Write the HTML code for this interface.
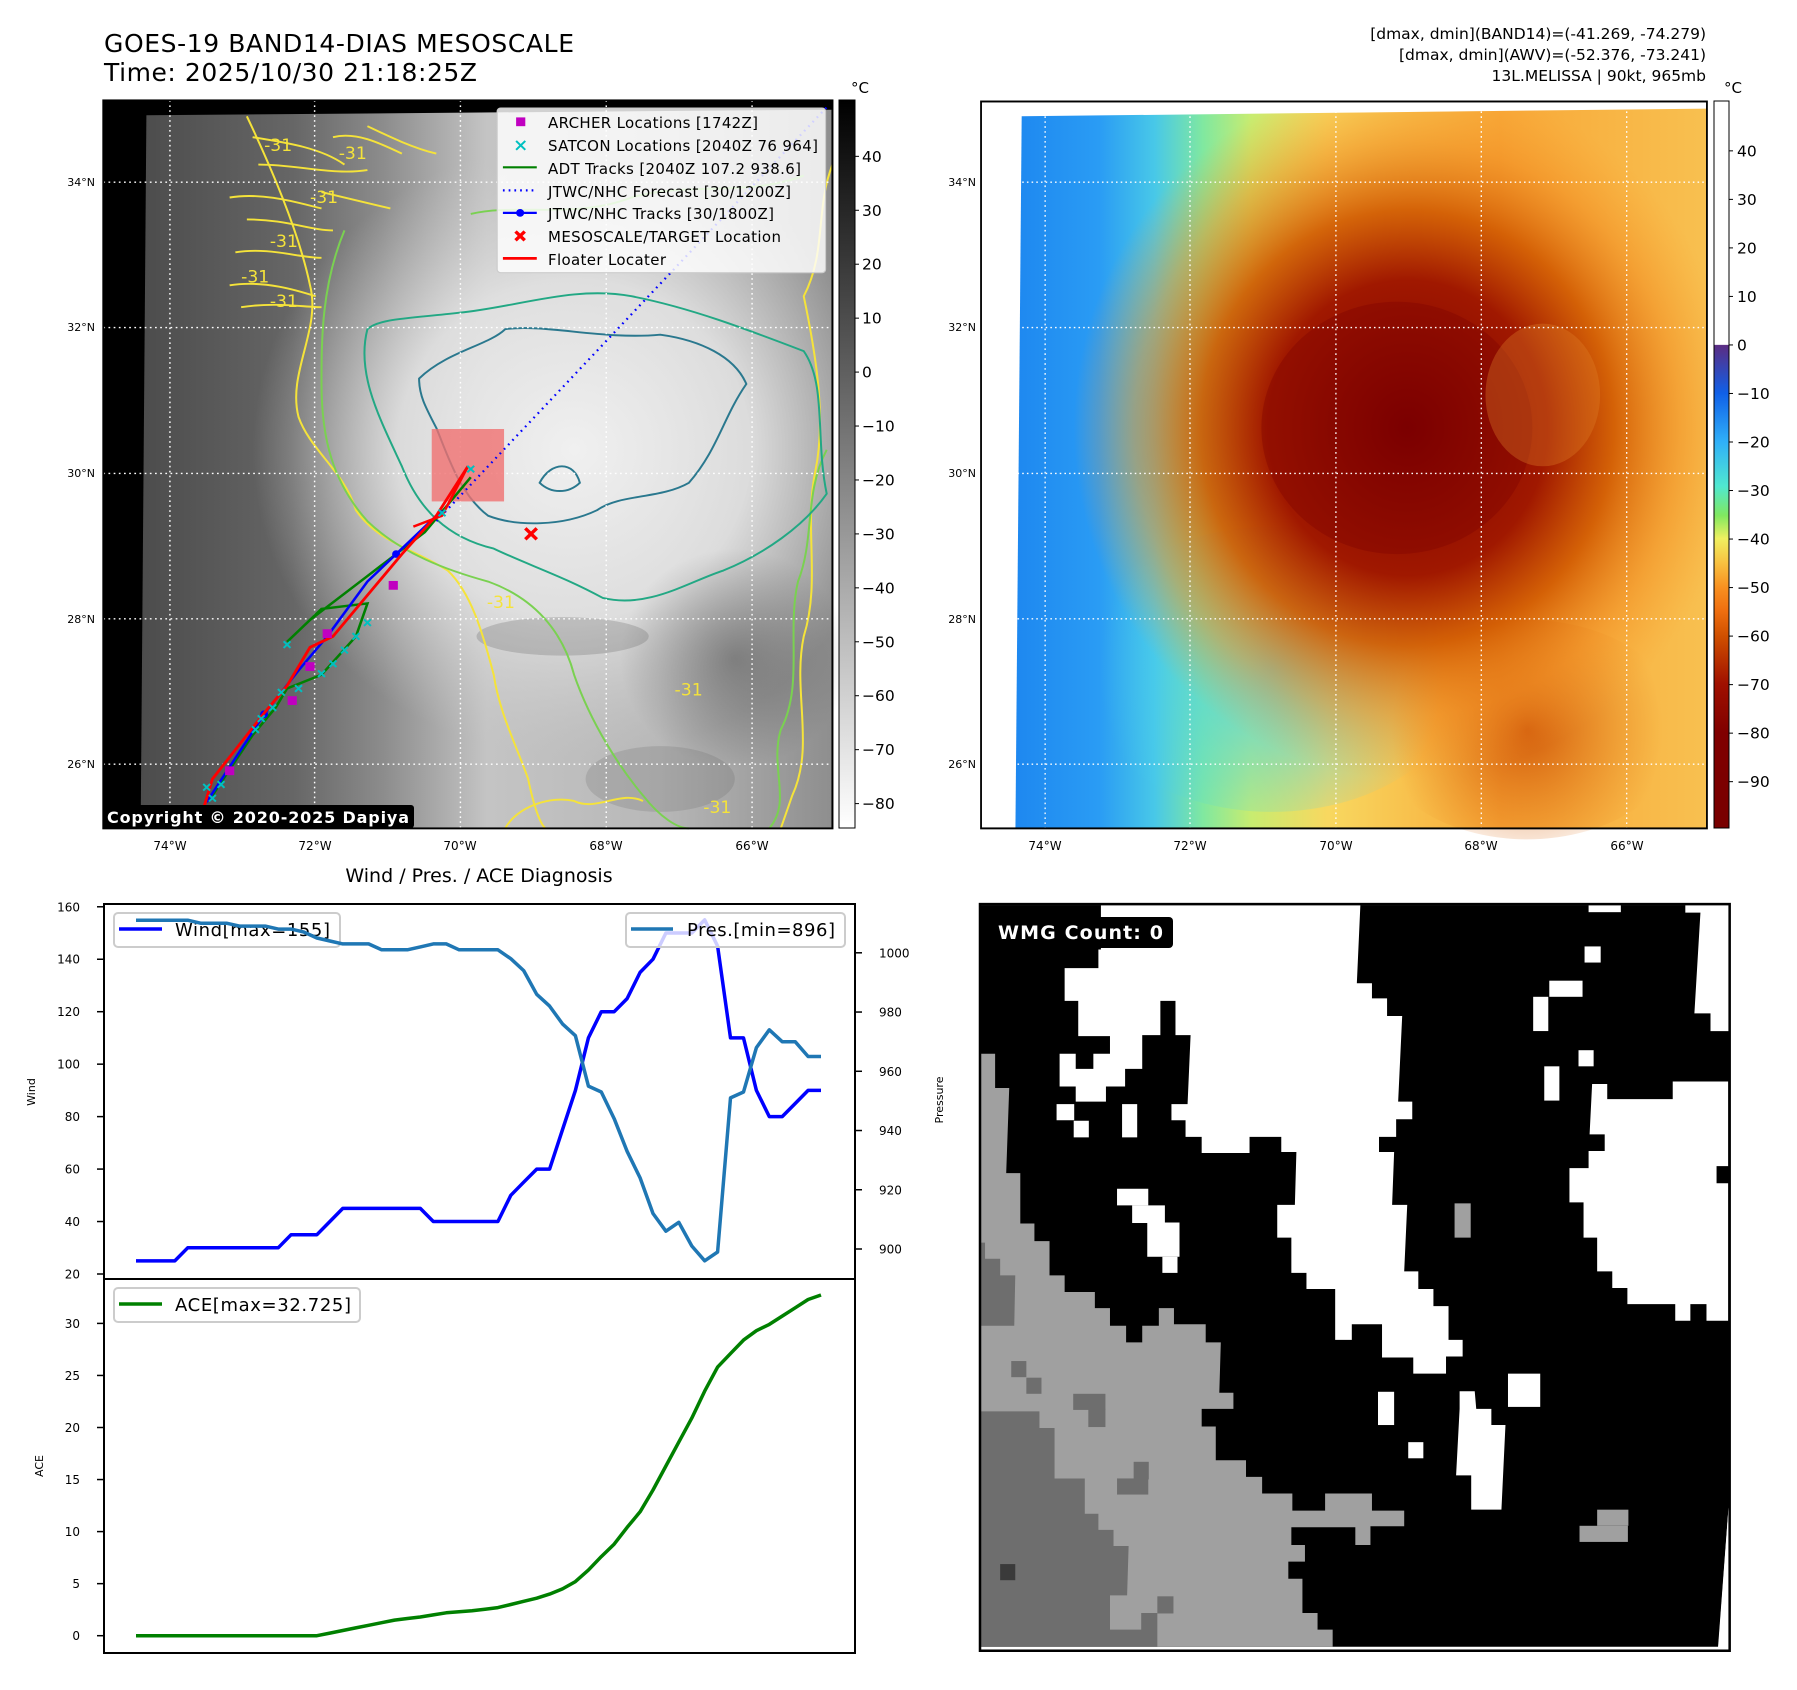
<!DOCTYPE html>
<html><head><meta charset="utf-8"><title>GOES-19 Mesoscale</title>
<style>
html,body{margin:0;padding:0;background:#fff;}
svg{display:block;font-family:"DejaVu Sans","Liberation Sans",sans-serif;}
</style></head>
<body>
<svg id="fig" width="1797" height="1690" viewBox="0 0 1797 1690" xmlns="http://www.w3.org/2000/svg">
<defs>
  <linearGradient id="g1base" gradientUnits="userSpaceOnUse" x1="245" y1="0" x2="1450" y2="0">
    <stop offset="0" stop-color="#4c4c4c"/><stop offset="0.22" stop-color="#666"/><stop offset="0.35" stop-color="#8c8c8c"/>
    <stop offset="0.5" stop-color="#c4c4c4"/><stop offset="0.75" stop-color="#b8b8b8"/><stop offset="1" stop-color="#8e8e8e"/>
  </linearGradient>
  <radialGradient id="g1c" gradientUnits="userSpaceOnUse" cx="1000" cy="820" r="560">
    <stop offset="0" stop-color="#f0f0f0" stop-opacity="1"/><stop offset="0.55" stop-color="#e2e2e2" stop-opacity="0.9"/><stop offset="1" stop-color="#c8c8c8" stop-opacity="0"/>
  </radialGradient>
  <radialGradient id="g1d" gradientUnits="userSpaceOnUse" cx="1280" cy="1200" r="200">
    <stop offset="0" stop-color="#4a4a4a" stop-opacity="0.5"/><stop offset="1" stop-color="#4a4a4a" stop-opacity="0"/>
  </radialGradient>
  <linearGradient id="g2base" gradientUnits="userSpaceOnUse" x1="70" y1="0" x2="1395" y2="0">
    <stop offset="0" stop-color="#1e88f0"/><stop offset="0.12" stop-color="#2a9cf4"/><stop offset="0.2" stop-color="#48c8e8"/>
    <stop offset="0.27" stop-color="#80e8a0"/><stop offset="0.34" stop-color="#c8ec70"/><stop offset="0.45" stop-color="#f8d860"/>
    <stop offset="0.7" stop-color="#f8a838"/><stop offset="1" stop-color="#f8c050"/>
  </linearGradient>
  <radialGradient id="g2c" gradientUnits="userSpaceOnUse" cx="820" cy="780" r="640">
    <stop offset="0" stop-color="#7c0000" stop-opacity="1"/><stop offset="0.42" stop-color="#a01800" stop-opacity="1"/>
    <stop offset="0.62" stop-color="#d05800" stop-opacity="0.9"/><stop offset="0.82" stop-color="#f08a20" stop-opacity="0.5"/>
    <stop offset="1" stop-color="#f8a030" stop-opacity="0"/>
  </radialGradient>
  <radialGradient id="g2b" gradientUnits="userSpaceOnUse" cx="560" cy="1220" r="330">
    <stop offset="0" stop-color="#48d0f0" stop-opacity="0.85"/><stop offset="1" stop-color="#48d0f0" stop-opacity="0"/>
  </radialGradient>
  <radialGradient id="g2o" gradientUnits="userSpaceOnUse" cx="1050" cy="1330" r="260">
    <stop offset="0" stop-color="#c84800" stop-opacity="0.8"/><stop offset="1" stop-color="#e07010" stop-opacity="0"/>
  </radialGradient>
  <linearGradient id="cb1" x1="0" y1="0" x2="0" y2="1">
    <stop offset="0" stop-color="#000"/><stop offset="1" stop-color="#fff"/>
  </linearGradient>
  <linearGradient id="cb2" x1="0" y1="0" x2="0" y2="1">
    <stop offset="0" stop-color="#fff"/><stop offset="0.335" stop-color="#fff"/><stop offset="0.336" stop-color="#5b2c83"/>
    <stop offset="0.402" stop-color="#1060e8"/><stop offset="0.469" stop-color="#30b0f8"/><stop offset="0.53" stop-color="#50e8d0"/>
    <stop offset="0.57" stop-color="#80e860"/><stop offset="0.602" stop-color="#f0f060"/><stop offset="0.636" stop-color="#f8c040"/>
    <stop offset="0.669" stop-color="#f89020"/><stop offset="0.70" stop-color="#f07010"/><stop offset="0.736" stop-color="#d05000"/>
    <stop offset="0.802" stop-color="#a01000"/><stop offset="0.869" stop-color="#800000"/><stop offset="1" stop-color="#780000"/>
  </linearGradient>
</defs>

<!-- Titles -->
<text x="104" y="52" font-size="25" textLength="470">GOES-19 BAND14-DIAS MESOSCALE</text>
<text x="104" y="81" font-size="25" textLength="373">Time: 2025/10/30 21:18:25Z</text>
<g font-size="15.5" text-anchor="end">
  <text x="1706" y="39">[dmax, dmin](BAND14)=(-41.269, -74.279)</text>
  <text x="1706" y="60">[dmax, dmin](AWV)=(-52.376, -73.241)</text>
  <text x="1706" y="81">13L.MELISSA | 90kt, 965mb</text>
</g>

<!-- MAP 1 -->
<g>
 <g transform="scale(0.5741,0.5486)">
  <rect x="180" y="183" width="1270" height="1327" fill="#000"/>
  <polygon points="255,210 1450,200 1450,1510 245,1510" fill="url(#g1base)"/>
  <polygon points="255,210 1450,200 1450,1510 245,1510" fill="url(#g1c)"/>
  <ellipse cx="1280" cy="1200" rx="200" ry="220" fill="url(#g1d)"/>
  <ellipse cx="980" cy="1160" rx="150" ry="35" fill="#5a5a5a" opacity="0.25"/>
  <ellipse cx="1150" cy="1420" rx="130" ry="60" fill="#606060" opacity="0.2"/>
  <!-- contours -->
  <g fill="none" stroke-width="3.5">
   <path stroke="#f5e33a" d="M430,212 C470,300 520,420 540,520 C560,600 500,680 520,760 C540,820 600,860 620,930 C660,990 720,1000 780,1040 C820,1080 840,1150 860,1230 C870,1300 900,1360 920,1420 C930,1470 940,1500 950,1510"/>
   <path stroke="#f5e33a" d="M1450,300 C1420,380 1440,460 1400,540 C1420,640 1440,760 1420,860 C1400,960 1430,1060 1400,1160 C1380,1260 1420,1360 1380,1450 L1360,1510"/>
   <path stroke="#f5e33a" d="M880,1510 C900,1470 960,1450 1000,1460 C1040,1480 1080,1440 1120,1460"/>
   <path stroke="#7ad151" d="M600,420 C560,520 560,620 560,700 C560,800 580,880 640,950 C700,1010 780,1040 850,1060 C930,1090 980,1150 1000,1230 C1030,1320 1080,1400 1120,1450 C1150,1490 1180,1510 1200,1510"/>
   <path stroke="#7ad151" d="M1440,820 C1400,900 1420,980 1390,1060 C1370,1150 1400,1250 1360,1330 C1340,1400 1380,1460 1340,1510"/>
   <path stroke="#7ad151" d="M820,390 C900,370 1000,400 1100,360 C1200,330 1300,360 1400,320"/>
   <path stroke="#22a884" d="M640,600 C620,680 660,760 700,850 C730,930 780,980 860,1000 C920,1030 980,1050 1050,1090 C1130,1110 1200,1060 1260,1040 C1330,1010 1400,960 1440,900 C1420,800 1440,700 1400,640 C1300,600 1200,560 1100,540 C1000,520 900,560 800,570 C720,580 660,580 640,600 Z"/>
   <path stroke="#2a788e" d="M730,690 C780,640 850,630 880,600 C950,590 1050,620 1150,610 C1220,620 1280,650 1300,700 C1260,760 1250,820 1200,880 C1150,910 1080,900 1040,930 C980,960 900,960 850,940 C800,900 780,830 760,780 C740,740 730,720 730,690 Z"/>
   <path stroke="#2a788e" d="M940,880 C960,840 1000,840 1010,880 C990,900 960,900 940,880 Z"/>
  </g>
  <g fill="none" stroke="#f5e33a" stroke-width="3.5">
   <path d="M440,250 C500,260 560,270 600,300"/><path d="M450,300 C520,300 580,320 640,310"/>
   <path d="M400,360 C460,350 520,370 560,380"/><path d="M430,400 C500,400 540,420 580,420"/>
   <path d="M410,460 C470,450 520,470 560,470"/><path d="M400,520 C460,510 520,530 550,540"/>
   <path d="M420,560 C480,550 530,560 560,560"/><path d="M560,350 C600,360 640,370 680,380"/>
   <path d="M640,230 C680,250 720,270 760,280"/><path d="M580,250 C620,240 660,260 700,280"/>
  </g>
  <g fill="#f5e33a" font-size="30">
   <text x="460" y="275">-31</text><text x="590" y="290">-31</text><text x="540" y="370">-31</text>
   <text x="470" y="450">-31</text><text x="420" y="515">-31</text><text x="470" y="560">-31</text>
   <text x="848" y="1108">-31</text><text x="1175" y="1268">-31</text><text x="1225" y="1482">-31</text>
  </g>
  <!-- gridlines -->
  <g stroke="#fff" stroke-width="2.5" stroke-dasharray="3,6">
   <line x1="296" y1="183" x2="296" y2="1510"/><line x1="548" y1="183" x2="548" y2="1510"/>
   <line x1="802" y1="183" x2="802" y2="1510"/><line x1="1056" y1="183" x2="1056" y2="1510"/>
   <line x1="1310" y1="183" x2="1310" y2="1510"/>
   <line x1="180" y1="332" x2="1450" y2="332"/><line x1="180" y1="597" x2="1450" y2="597"/>
   <line x1="180" y1="863" x2="1450" y2="863"/><line x1="180" y1="1128" x2="1450" y2="1128"/>
   <line x1="180" y1="1393" x2="1450" y2="1393"/>
  </g>
  <rect x="752" y="782" width="126" height="132" fill="#f07070" opacity="0.8"/>
  <!-- tracks -->
  <polyline points="760,950 1445,190" fill="none" stroke="#0000ff" stroke-width="4" stroke-dasharray="3,8"/>
  <polyline points="370,1450 440,1340 480,1290 500,1255 560,1230 620,1160 640,1100 560,1110 500,1170 540,1130 640,1050 690,1010 740,970 820,870" fill="none" stroke="#008000" stroke-width="4.5"/>
  <polyline points="360,1462 460,1302 520,1222 570,1160 640,1060 690,1010 770,930" fill="none" stroke="#0000ff" stroke-width="4.5"/>
  <circle cx="460" cy="1302" r="7" fill="#0000ff"/><circle cx="690" cy="1010" r="7" fill="#0000ff"/>
  <polyline points="355,1472 370,1420 400,1380 460,1300 500,1250 540,1180 580,1160 620,1110 700,1010 760,940 815,850" fill="none" stroke="#ff0000" stroke-width="5"/>
  <polyline points="720,960 770,940 815,850" fill="none" stroke="#ff0000" stroke-width="4.5"/>
  <g fill="#c000c0">
   <rect x="677" y="1059" width="16" height="16"/><rect x="562" y="1147" width="16" height="16"/>
   <rect x="532" y="1207" width="16" height="16"/><rect x="501" y="1269" width="16" height="16"/>
   <rect x="392" y="1397" width="16" height="16"/>
  </g>
  <g stroke="#00c0c0" stroke-width="3.5" id="satcon"></g>
  <g stroke="#ff0000" stroke-width="6">
   <line x1="915" y1="963" x2="935" y2="983"/><line x1="935" y1="963" x2="915" y2="983"/>
  </g>
  <!-- legend -->
  <g>
   <rect x="866" y="197" width="572" height="300" rx="6" fill="#fff" fill-opacity="0.82" stroke="#ccc" stroke-width="2"/>
   <rect x="899" y="214" width="16" height="16" fill="#c000c0"/>
   <g stroke="#00c0c0" stroke-width="3.5"><line x1="899" y1="257" x2="915" y2="273"/><line x1="915" y1="257" x2="899" y2="273"/></g>
   <line x1="876" y1="305" x2="935" y2="305" stroke="#008000" stroke-width="4"/>
   <line x1="876" y1="347" x2="935" y2="347" stroke="#0000ff" stroke-width="4" stroke-dasharray="3,7"/>
   <line x1="876" y1="388" x2="935" y2="388" stroke="#0000ff" stroke-width="4"/><circle cx="906" cy="388" r="7" fill="#0000ff"/>
   <g stroke="#ff0000" stroke-width="6"><line x1="898" y1="422" x2="914" y2="438"/><line x1="914" y1="422" x2="898" y2="438"/></g>
   <line x1="876" y1="471" x2="935" y2="471" stroke="#ff0000" stroke-width="5"/>
  </g>
  <rect x="180" y="183" width="1270" height="1327" fill="none" stroke="#000" stroke-width="3.5"/>
 </g>
 <g font-size="15" fill="#000">
  <text x="548" y="128" textLength="210">ARCHER Locations [1742Z]</text>
  <text x="548" y="151" textLength="270">SATCON Locations [2040Z 76 964]</text>
  <text x="548" y="174" textLength="253">ADT Tracks [2040Z 107.2 938.6]</text>
  <text x="548" y="197" textLength="243">JTWC/NHC Forecast [30/1200Z]</text>
  <text x="548" y="219" textLength="226">JTWC/NHC Tracks [30/1800Z]</text>
  <text x="548" y="242" textLength="233">MESOSCALE/TARGET Location</text>
  <text x="548" y="265" textLength="118">Floater Locater</text>
 </g>
 <rect x="103" y="805" width="311" height="23" rx="3" fill="#000"/>
 <text x="107" y="823" font-size="16" font-weight="bold" fill="#fff" textLength="302">Copyright © 2020-2025 Dapiya</text>
 <g font-size="11" text-anchor="end">
  <text x="95" y="186">34°N</text><text x="95" y="331">32°N</text><text x="95" y="477">30°N</text><text x="95" y="623">28°N</text><text x="95" y="768">26°N</text>
 </g>
 <g font-size="12" text-anchor="middle">
  <text x="170" y="850">74°W</text><text x="315" y="850">72°W</text><text x="460" y="850">70°W</text><text x="606" y="850">68°W</text><text x="752" y="850">66°W</text>
 </g>
 <rect x="839" y="100" width="16" height="728" fill="url(#cb1)" stroke="#000" stroke-width="1"/>
 <text x="851" y="93" font-size="15">°C</text>
 <g id="cb1ticks" font-size="15.5"></g>
</g>

<!-- MAP 2 -->
<g>
 <g transform="translate(980,0) scale(0.5211,0.5486)">
  <rect x="0" y="185" width="1395" height="1325" fill="#fff"/>
  <polygon points="80,212 1395,198 1395,1510 68,1510" fill="url(#g2base)"/>
  <ellipse cx="560" cy="1220" rx="380" ry="260" fill="url(#g2b)"/>
  <ellipse cx="1050" cy="1330" rx="300" ry="200" fill="url(#g2o)"/>
  <polygon points="80,212 1395,198 1395,1510 68,1510" fill="url(#g2c)"/>
  <ellipse cx="800" cy="780" rx="260" ry="230" fill="#7a0000" opacity="0.35"/>
  <ellipse cx="1080" cy="720" rx="110" ry="130" fill="#e08028" opacity="0.35"/>
  <g stroke="#fff" stroke-width="2.5" stroke-dasharray="3,6">
   <line x1="125" y1="185" x2="125" y2="1510"/><line x1="403" y1="185" x2="403" y2="1510"/>
   <line x1="683" y1="185" x2="683" y2="1510"/><line x1="962" y1="185" x2="962" y2="1510"/>
   <line x1="1241" y1="185" x2="1241" y2="1510"/>
   <line x1="0" y1="332" x2="1395" y2="332"/><line x1="0" y1="597" x2="1395" y2="597"/>
   <line x1="0" y1="863" x2="1395" y2="863"/><line x1="0" y1="1128" x2="1395" y2="1128"/>
   <line x1="0" y1="1393" x2="1395" y2="1393"/>
  </g>
  <rect x="2" y="185" width="1393" height="1325" fill="none" stroke="#000" stroke-width="3.5"/>
 </g>
 <g font-size="11" text-anchor="end">
  <text x="976" y="186">34°N</text><text x="976" y="331">32°N</text><text x="976" y="477">30°N</text><text x="976" y="623">28°N</text><text x="976" y="768">26°N</text>
 </g>
 <g font-size="12" text-anchor="middle">
  <text x="1045" y="850">74°W</text><text x="1190" y="850">72°W</text><text x="1336" y="850">70°W</text><text x="1481" y="850">68°W</text><text x="1627" y="850">66°W</text>
 </g>
 <rect x="1714" y="101" width="15" height="727" fill="url(#cb2)" stroke="#000" stroke-width="1"/>
 <text x="1724" y="93" font-size="15">°C</text>
 <g id="cb2ticks" font-size="15.5"></g>
</g>

<!-- WMG panel -->
<g>
 <g transform="translate(980,890) scale(0.5038)">
  <rect x="0" y="28" width="1488" height="1482" fill="#fff"/>
  <polygon points="0,30 1488,30 1488,1195 1465,1502 0,1502" fill="#000"/>
  <g fill="#fff">
   <polygon points="240,30 755,30 748,185 778,185 778,215 808,215 808,250 838,250 830,420 858,420 858,455 826,455 826,490 792,490 792,520 822,520 818,625 848,625 842,757 870,757 870,792 900,792 900,826 930,826 930,893 958,893 958,926 925,926 925,960 860,960 860,928 798,928 798,862 738,862 738,893 705,893 705,792 648,792 648,760 618,760 618,690 590,690 590,625 625,625 628,520 598,520 598,490 535,490 535,522 440,522 440,490 408,490 408,457 380,457 380,425 412,425 418,288 388,288 388,220 358,220 358,288 322,288 322,355 288,355 288,390 250,390 250,420 190,420 190,390 158,390 158,325 190,325 190,355 225,355 225,325 258,325 258,290 195,290 195,220 168,220 168,155 235,155 235,118 240,118"/>
   <polygon points="1215,385 1245,385 1245,415 1375,415 1375,380 1485,380 1485,548 1462,548 1462,582 1485,582 1485,855 1442,855 1442,822 1410,822 1410,855 1380,855 1380,822 1285,822 1285,790 1255,790 1255,757 1225,757 1225,690 1198,690 1198,620 1170,620 1170,552 1208,552 1208,518 1240,518 1240,485 1210,485"/>
   <polygon points="1400,30 1488,30 1488,280 1450,280 1450,245 1418,245 1430,45 1400,45"/>
   <polygon points="1488,1195 1488,1510 1465,1510"/>
   <polygon points="952,995 982,995 985,1030 1015,1030 1015,1062 1043,1062 1035,1230 975,1230 975,1162 945,1162 952,1030"/>
   <rect x="1200" y="112" width="32" height="32"/><rect x="1130" y="180" width="66" height="32"/>
   <rect x="1098" y="212" width="30" height="68"/><rect x="1188" y="318" width="30" height="32"/>
   <rect x="1120" y="350" width="30" height="68"/><rect x="1208" y="30" width="64" height="14"/>
   <rect x="272" y="593" width="62" height="33"/><rect x="302" y="626" width="65" height="35"/>
   <rect x="332" y="660" width="64" height="68"/><rect x="362" y="728" width="30" height="32"/>
   <rect x="152" y="425" width="35" height="32"/><rect x="186" y="458" width="30" height="33"/>
   <rect x="282" y="425" width="30" height="66"/><rect x="790" y="996" width="32" height="66"/>
   <rect x="850" y="1096" width="30" height="32"/><rect x="1048" y="960" width="64" height="66"/>
  </g>
  <polygon fill="#a0a0a0" points="0,325 30,325 30,393 58,393 52,562 80,562 80,662 108,662 108,697 138,697 138,765 168,765 168,798 228,798 228,830 258,830 258,865 290,865 290,898 322,898 322,865 355,865 355,830 385,830 385,862 448,862 448,898 478,898 475,998 503,998 503,1030 440,1030 440,1065 468,1065 468,1132 528,1132 528,1165 560,1165 560,1198 620,1198 620,1232 685,1232 685,1198 778,1198 778,1232 842,1232 842,1263 775,1263 775,1300 745,1300 745,1265 618,1265 618,1300 645,1300 645,1333 612,1333 612,1367 640,1367 640,1435 670,1435 670,1468 700,1468 700,1502 0,1502"/>
  <g fill="#a0a0a0"><rect x="942" y="622" width="32" height="68"/><rect x="1225" y="1230" width="62" height="32"/><rect x="1190" y="1262" width="96" height="32"/></g>
  <polygon fill="#6e6e6e" points="0,700 10,700 10,732 40,732 40,765 70,765 68,865 0,865"/>
  <polygon fill="#6e6e6e" points="0,1035 118,1035 118,1068 148,1068 148,1168 208,1168 208,1238 235,1238 235,1270 265,1270 265,1302 295,1302 292,1400 258,1400 258,1468 320,1468 320,1435 352,1435 352,1502 0,1502"/>
  <g fill="#6e6e6e"><rect x="62" y="935" width="30" height="32"/><rect x="92" y="968" width="30" height="32"/>
   <rect x="185" y="1000" width="64" height="32"/><rect x="215" y="1030" width="34" height="36"/>
   <rect x="272" y="1168" width="62" height="32"/><rect x="305" y="1135" width="30" height="35"/>
   <rect x="352" y="1402" width="32" height="34"/></g>
  <rect x="40" y="1338" width="30" height="32" fill="#3a3a3a"/>
  <rect x="0" y="28" width="1488" height="1482" fill="none" stroke="#000" stroke-width="5"/>
 </g>
 <rect x="983" y="917" width="190" height="31" rx="4" fill="#000"/>
 <text x="998" y="939" font-size="19" font-weight="bold" fill="#fff" textLength="165">WMG Count: 0</text>
</g>

<!-- Wind / Pres / ACE -->
<g id="diag">
 <text x="479" y="882" font-size="19" text-anchor="middle">Wind / Pres. / ACE Diagnosis</text>
 <text transform="translate(35,1092) rotate(-90)" font-size="11" text-anchor="middle">Wind</text>
 <text transform="translate(943,1100) rotate(-90)" font-size="11" text-anchor="middle">Pressure</text>
 <text transform="translate(43,1466) rotate(-90)" font-size="11" text-anchor="middle">ACE</text>
 <g>
  <rect x="114" y="913" width="226" height="34" rx="4" fill="#fff" fill-opacity="0.8" stroke="#ccc" stroke-width="2"/>
  <line x1="119" y1="929" x2="162" y2="929" stroke="#0000ff" stroke-width="3.5"/>
  <text x="175" y="936" font-size="18" textLength="155">Wind[max=155]</text>
 </g>
 <g id="diagMarks"></g>
 <rect x="104" y="904" width="751" height="375" fill="none" stroke="#000" stroke-width="2"/>
 <rect x="104" y="1279" width="751" height="374" fill="none" stroke="#000" stroke-width="2"/>
 <g>
  <rect x="626" y="913" width="219" height="34" rx="4" fill="#fff" fill-opacity="0.8" stroke="#ccc" stroke-width="2"/>
  <line x1="631" y1="929" x2="673" y2="929" stroke="#1f77b4" stroke-width="3.5"/>
  <text x="687" y="936" font-size="18" textLength="148">Pres.[min=896]</text>
 </g>
 <g>
  <rect x="114" y="1288" width="246" height="34" rx="4" fill="#fff" fill-opacity="0.8" stroke="#ccc" stroke-width="2"/>
  <line x1="119" y1="1304" x2="162" y2="1304" stroke="#008000" stroke-width="3.5"/>
  <text x="175" y="1311" font-size="18" textLength="176">ACE[max=32.725]</text>
 </g>
</g>

<script>
// ---- chart data ----
const wind = [25,25,25,25,30,30,30,30,30,30,30,30,35,35,35,40,45,45,45,45,45,45,45,40,40,40,40,40,40,50,55,60,60,75,90,110,120,120,125,135,140,150,150,150,155,145,110,110,90,80,80,85,90,90];
const pres = [1011,1011,1011,1011,1011,1010,1010,1010,1009,1009,1009,1008,1008,1007,1005,1004,1003,1003,1003,1001,1001,1001,1002,1003,1003,1001,1001,1001,1001,998,994,986,982,976,972,955,953,944,933,924,912,906,909,901,896,899,951,953,968,974,970,970,965,965];
const ace = [0,0,0,0,0,0,0,0,0,0,0,0,0,0,0,0.25,0.5,0.75,1.0,1.25,1.5,1.65,1.8,2.0,2.2,2.3,2.4,2.55,2.7,3.0,3.3,3.6,4.0,4.5,5.2,6.3,7.6,8.8,10.4,11.9,14.0,16.3,18.6,20.9,23.5,25.8,27.1,28.4,29.3,29.9,30.7,31.5,32.3,32.725];
const windTicks = [20,40,60,80,100,120,140,160];
const presTicks = [900,920,940,960,980,1000];
const aceTicks = [0,5,10,15,20,25,30];
const cb1Ticks = [40,30,20,10,0,-10,-20,-30,-40,-50,-60,-70,-80];
const cb2Ticks = [40,30,20,10,0,-10,-20,-30,-40,-50,-60,-70,-80,-90];
const satconPts = [[500,1175],[640,1135],[620,1160],[600,1185],[580,1210],[560,1228],[520,1255],[490,1262],[475,1290],[455,1310],[445,1330],[385,1430],[360,1435],[370,1455],[770,935],[820,855]];

const NS = 'http://www.w3.org/2000/svg';
function mk(tag, attrs, parent){const e=document.createElementNS(NS,tag);for(const k in attrs)e.setAttribute(k,attrs[k]);parent.appendChild(e);return e;}

const n = wind.length;
const xAt = i => 136 + (821-136)*i/(n-1);
const yWind = v => 1274 - (v-20)*2.623;
const yPres = p => 952.8 + (1000-p)*2.962;
const yAce = a => 1635.7 - a*10.41;
const yCb1 = v => (285 + (40-v)*9.833)/1.823;
const yCb2 = v => (275 + (40-v)*8.846)/1.823;

const marks = document.getElementById('diagMarks');
function line(arr, yf, color, name){
  const pts = arr.map((v,i)=>xAt(i).toFixed(1)+','+yf(v).toFixed(1)).join(' ');
  const pl = mk('polyline',{points:pts,fill:'none',stroke:color,'stroke-width':3.5,'stroke-linejoin':'round'},marks);
  
  
}
line(wind, yWind, '#0000ff', 'wind-line');
line(pres, yPres, '#1f77b4', 'pressure-line');
line(ace, yAce, '#008000', 'ace-line');

windTicks.forEach(v=>{
  const y=yWind(v);
  mk('line',{x1:97,y1:y,x2:104,y2:y,stroke:'#000','stroke-width':1.5},marks);
  const t=mk('text',{x:80,y:y+4.5,'font-size':12,'text-anchor':'end'},marks);
  t.textContent=v;
  
  
});
presTicks.forEach(v=>{
  const y=yPres(v);
  mk('line',{x1:855,y1:y,x2:862,y2:y,stroke:'#000','stroke-width':1.5},marks);
  const t=mk('text',{x:879,y:y+4.5,'font-size':12},marks);
  t.textContent=v;
  
  
});
aceTicks.forEach(v=>{
  const y=yAce(v);
  mk('line',{x1:97,y1:y,x2:104,y2:y,stroke:'#000','stroke-width':1.5},marks);
  const t=mk('text',{x:80,y:y+4.5,'font-size':12,'text-anchor':'end'},marks);
  t.textContent=v;
  
  
});

const c1=document.getElementById('cb1ticks');
cb1Ticks.forEach(v=>{
  const y=yCb1(v);
  mk('line',{x1:855,y1:y,x2:859,y2:y,stroke:'#000'},c1);
  const t=mk('text',{x:862,y:y+5.5},c1);
  t.textContent=(v<0?'\u2212'+(-v):v);
  
  
});
const c2=document.getElementById('cb2ticks');
cb2Ticks.forEach(v=>{
  const y=yCb2(v);
  mk('line',{x1:1729,y1:y,x2:1733,y2:y,stroke:'#000'},c2);
  const t=mk('text',{x:1737,y:y+5.5},c2);
  t.textContent=(v<0?'\u2212'+(-v):v);
  
  
});

const sc=document.getElementById('satcon');
satconPts.forEach(p=>{
  const g=mk('g',{},sc);
  
  
  mk('line',{x1:p[0]-6,y1:p[1]-6,x2:p[0]+6,y2:p[1]+6},g);
  mk('line',{x1:p[0]+6,y1:p[1]-6,x2:p[0]-6,y2:p[1]+6},g);
});
</script>
</svg>
</body></html>
